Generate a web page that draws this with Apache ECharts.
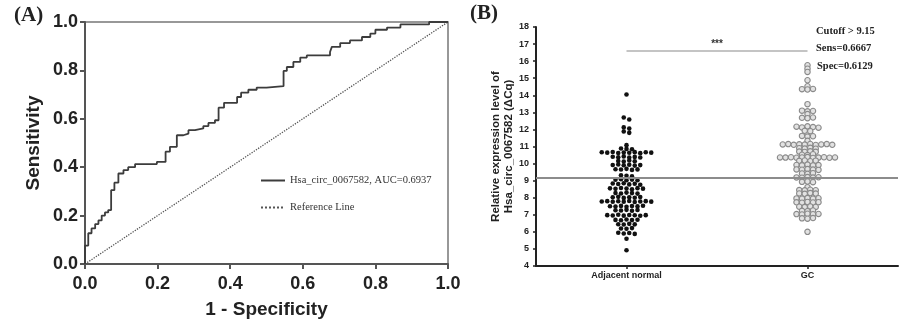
<!DOCTYPE html>
<html><head><meta charset="utf-8">
<script src="https://cdn.jsdelivr.net/npm/echarts@6/dist/echarts.min.js"></script>
<style>html,body{margin:0;padding:0;background:#fff}#c{width:901px;height:322px}</style>
</head><body><div id="c"></div>
<script>
// ---------- Panel A: ROC curve (vertices of the step curve) ----------
const rocFpr = [0, 0, 0.009, 0.018, 0.028, 0.037, 0.046, 0.055, 0.064, 0.072, 0.081, 0.092, 0.106, 0.119, 0.138, 0.198, 0.222, 0.234, 0.253, 0.271, 0.285, 0.303, 0.326, 0.34, 0.358, 0.368, 0.383, 0.419, 0.43, 0.45, 0.473, 0.5, 0.547, 0.556, 0.574, 0.593, 0.611, 0.675, 0.68, 0.703, 0.73, 0.763, 0.786, 0.8, 0.832, 0.869, 0.948, 1.0];
const rocTpr = [0, 0.076, 0.127, 0.147, 0.165, 0.18, 0.2, 0.213, 0.223, 0.305, 0.336, 0.374, 0.388, 0.40, 0.413, 0.422, 0.464, 0.484, 0.532, 0.539, 0.553, 0.56, 0.57, 0.583, 0.594, 0.646, 0.666, 0.69, 0.708, 0.72, 0.729, 0.735, 0.798, 0.814, 0.835, 0.853, 0.862, 0.876, 0.897, 0.913, 0.924, 0.938, 0.952, 0.968, 0.977, 0.99, 1.0, 1.0];
const refX = [0, 1];
const refY = [0, 1];
const rocName = 'Hsa_circ_0067582, AUC=0.6937';
const refName = 'Reference Line';
const rocTicks = [0, 0.2, 0.4, 0.6, 0.8, 1.0];

// ---------- Panel B: dot plot ----------
const groupNames = ['Adjacent normal', 'GC'];
const normalValues = [
  14.05,
  12.70,
  12.58,
  12.12, 12.05,
  11.88, 11.80,
  11.08,
  10.88, 10.86, 10.84,
  10.66, 10.64, 10.68, 10.62, 10.65, 10.63, 10.67, 10.61, 10.66, 10.64,
  10.40, 10.37, 10.42, 10.35, 10.39, 10.36,
  10.15, 10.12, 10.18, 10.14,
  9.92, 9.95, 9.90, 9.93, 9.88, 9.91,
  9.67, 9.65, 9.69, 9.63, 9.66,
  9.31, 9.28, 9.25,
  9.05, 9.08, 9.03, 9.06, 9.02,
  8.83, 8.80, 8.85, 8.78, 8.82, 8.76,
  8.55, 8.52, 8.57, 8.54, 8.50, 8.56, 8.53,
  8.28, 8.25, 8.30, 8.27, 8.24,
  8.02, 8.05, 7.99, 8.03, 8.00, 8.04,
  7.78, 7.80, 7.76, 7.79, 7.77, 7.81, 7.75, 7.78, 7.80, 7.77,
  7.50, 7.48, 7.52, 7.47, 7.51, 7.49, 7.53,
  7.27, 7.25, 7.29, 7.24, 7.28,
  6.98, 6.96, 7.00, 6.95, 6.99, 6.97, 6.94, 6.98,
  6.70, 6.68, 6.72, 6.69, 6.71,
  6.45, 6.43, 6.47, 6.44,
  6.20, 6.18, 6.22,
  5.95, 5.90, 5.93, 5.88,
  5.60,
  4.92
];
const gcValues = [
  15.76,
  15.56,
  15.37,
  14.88,
  14.53,
  14.36, 14.34, 14.37,
  13.48,
  13.10, 13.06, 13.08,
  12.90,
  12.68, 12.66, 12.70,
  12.16, 12.12, 12.18, 12.14, 12.10,
  11.92, 11.90,
  11.62, 11.58, 11.60,
  11.33,
  11.12, 11.14, 11.10, 11.13, 11.11, 11.15, 11.09, 11.12, 11.14, 11.10,
  10.90, 10.88, 10.92, 10.87,
  10.70, 10.68, 10.72, 10.69,
  10.52, 10.50, 10.55,
  10.36, 10.35, 10.37, 10.34, 10.36, 10.38, 10.33, 10.35, 10.37, 10.34, 10.36,
  10.16, 10.18, 10.14, 10.17,
  9.92, 9.90, 9.94, 9.89, 9.91,
  9.66, 9.64, 9.68, 9.65, 9.63,
  9.42, 9.40, 9.44,
  9.19, 9.17, 9.21, 9.18, 9.20,
  8.93, 8.95, 8.91,
  8.62,
  8.45, 8.43, 8.47, 8.44,
  8.25, 8.23, 8.27, 8.24,
  7.96, 7.94, 7.98, 7.95, 7.97,
  7.73, 7.71, 7.75, 7.72, 7.74,
  7.47, 7.45, 7.49, 7.46,
  7.23, 7.21, 7.25,
  7.04, 7.02, 7.06, 7.03, 7.05,
  6.79, 6.77, 6.81,
  6.00
];
const cutoffValue = 9.15;
const sigLevel = 16.6;
const statLines = ['Cutoff > 9.15', 'Sens=0.6667', 'Spec=0.6129'];

// Prism-like row layout: values within a small tolerance share a row, spread symmetrically
function dotRows(values, catIndex, step, tol) {
  const out = []; let row = [];
  const flush = () => { const n = row.length; row.forEach((v, i) => out.push([catIndex + (i - (n - 1) / 2) * step, v])); row = []; };
  values.forEach(v => { if (row.length && Math.abs(v - row[0]) > tol) flush(); row.push(v); });
  flush();
  return out;
}
const gridBW = 362;
const stepUnits = 5.5 / (gridBW / 2);

const chart = echarts.init(document.getElementById('c'), null, {renderer: 'canvas'});
const sans = 'Liberation Sans';
const serif = 'Liberation Serif';
chart.setOption({
  animation: false,
  backgroundColor: '#fff',
  grid: [
    {left: 85, top: 22, width: 363, height: 242, show: true, borderColor: '#777', borderWidth: 1.5, outerBoundsMode: 'none'},
    {left: 536, top: 27, width: gridBW, height: 239, outerBoundsMode: 'none'}
  ],
  xAxis: [
    {type: 'value', gridIndex: 0, min: 0, max: 1, interval: 0.2,
     name: '1 - Specificity', nameLocation: 'middle', nameGap: 36,
     nameTextStyle: {fontFamily: sans, fontWeight: 'bold', fontSize: 19, color: '#222'},
     axisLine: {onZero: false, lineStyle: {color: '#555', width: 2}},
     axisTick: {show: true, length: 5, lineStyle: {color: '#555', width: 2}},
     axisLabel: {fontFamily: sans, fontWeight: 'bold', fontSize: 18, color: '#222', margin: 11, showMinLabel: true, showMaxLabel: true,
                 formatter: v => (rocTicks.includes(+v.toFixed(1)) ? v.toFixed(1) : '')},
     splitLine: {show: false}},
    {type: 'category', gridIndex: 1, data: groupNames, boundaryGap: true,
     axisLine: {onZero: false, lineStyle: {color: '#222', width: 2}},
     axisTick: {show: true, alignWithLabel: true, length: 3, lineStyle: {color: '#222', width: 1.5}},
     axisLabel: {fontFamily: sans, fontWeight: 'bold', fontSize: 9, color: '#222', margin: 5}},
    {type: 'value', gridIndex: 1, min: -0.5, max: 1.5, show: false, axisLine: {onZero: false}}
  ],
  yAxis: [
    {type: 'value', gridIndex: 0, min: 0, max: 1, interval: 0.2,
     name: 'Sensitivity', nameLocation: 'middle', nameGap: 42,
     nameTextStyle: {fontFamily: sans, fontWeight: 'bold', fontSize: 19, color: '#222'},
     axisLine: {onZero: false, lineStyle: {color: '#555', width: 2}},
     axisTick: {show: true, length: 5, lineStyle: {color: '#555', width: 2}},
     axisLabel: {fontFamily: sans, fontWeight: 'bold', fontSize: 18, color: '#222', margin: 7, showMinLabel: true, showMaxLabel: true,
                 formatter: v => v.toFixed(1)},
     splitLine: {show: false}},
    {type: 'value', gridIndex: 1, min: 4, max: 18, interval: 1,
     name: 'Relative expression level of\nHsa_circ_0067582 (ΔCq)', nameLocation: 'middle', nameGap: 21,
     nameTextStyle: {fontFamily: sans, fontWeight: 'bold', fontSize: 11.5, lineHeight: 13, color: '#222'},
     axisLine: {onZero: false, lineStyle: {color: '#222', width: 2}},
     axisTick: {show: true, length: 3, lineStyle: {color: '#222', width: 1.5}},
     axisLabel: {fontFamily: sans, fontWeight: 'bold', fontSize: 9, color: '#222', margin: 7, showMinLabel: true, showMaxLabel: true},
     splitLine: {show: false}}
  ],
  legend: {
    left: 255, top: 170, orient: 'vertical', itemWidth: 24, itemHeight: 10, itemGap: 16,
    itemStyle: {opacity: 0},
    textStyle: {fontFamily: serif, fontSize: 10.5, color: '#333'},
    data: [rocName, refName]
  },
  series: [
    {name: rocName, type: 'line', xAxisIndex: 0, yAxisIndex: 0, step: 'end', symbol: 'none', showSymbol: false,
     data: rocFpr.map((x, i) => [x, rocTpr[i]]),
     lineStyle: {color: '#3c3c3c', width: 1.8}, itemStyle: {color: '#3c3c3c'}, z: 3},
    {name: refName, type: 'line', xAxisIndex: 0, yAxisIndex: 0, symbol: 'none', showSymbol: false,
     data: refX.map((x, i) => [x, refY[i]]),
     lineStyle: {color: '#555', width: 1.3, type: 'dotted'}, itemStyle: {color: '#555'}, z: 2},
    {name: groupNames[0], type: 'scatter', xAxisIndex: 2, yAxisIndex: 1, symbolSize: 4.6,
     data: dotRows(normalValues, 0, stepUnits, 0.15),
     itemStyle: {color: '#111', opacity: 1}, z: 3,
     markLine: {silent: true, symbol: 'none', animation: false,
       data: [
         {yAxis: cutoffValue, lineStyle: {color: '#8c8c8c', width: 2, type: 'solid'}, label: {show: false}},
         [{coord: [0, sigLevel], lineStyle: {color: '#c4c4c4', width: 2, type: 'solid'},
           label: {show: true, position: 'middle', formatter: '***', distance: 2, fontFamily: sans, fontWeight: 'bold', fontSize: 10, color: '#333'}},
          {coord: [1, sigLevel]}]
       ]}},
    {name: groupNames[1], type: 'scatter', xAxisIndex: 2, yAxisIndex: 1, symbolSize: 5.4,
     data: dotRows(gcValues, 1, stepUnits, 0.15),
     itemStyle: {color: '#e2e2e2', borderColor: '#8a8a8a', borderWidth: 1.1, opacity: 1}, z: 3}
  ],
  graphic: [
    {type: 'text', left: 14, top: 5, style: {text: '(A)', font: 'bold 21px "Liberation Serif"', fill: '#222'}},
    {type: 'text', left: 470, top: 3, style: {text: '(B)', font: 'bold 21px "Liberation Serif"', fill: '#222'}},
    {type: 'text', left: 816, top: 26, style: {text: statLines[0], font: 'bold 10.5px "Liberation Serif"', fill: '#222'}},
    {type: 'text', left: 816, top: 43, style: {text: statLines[1], font: 'bold 10.5px "Liberation Serif"', fill: '#222'}},
    {type: 'text', left: 817, top: 61, style: {text: statLines[2], font: 'bold 10.5px "Liberation Serif"', fill: '#222'}}
  ]
});
</script></body></html>
